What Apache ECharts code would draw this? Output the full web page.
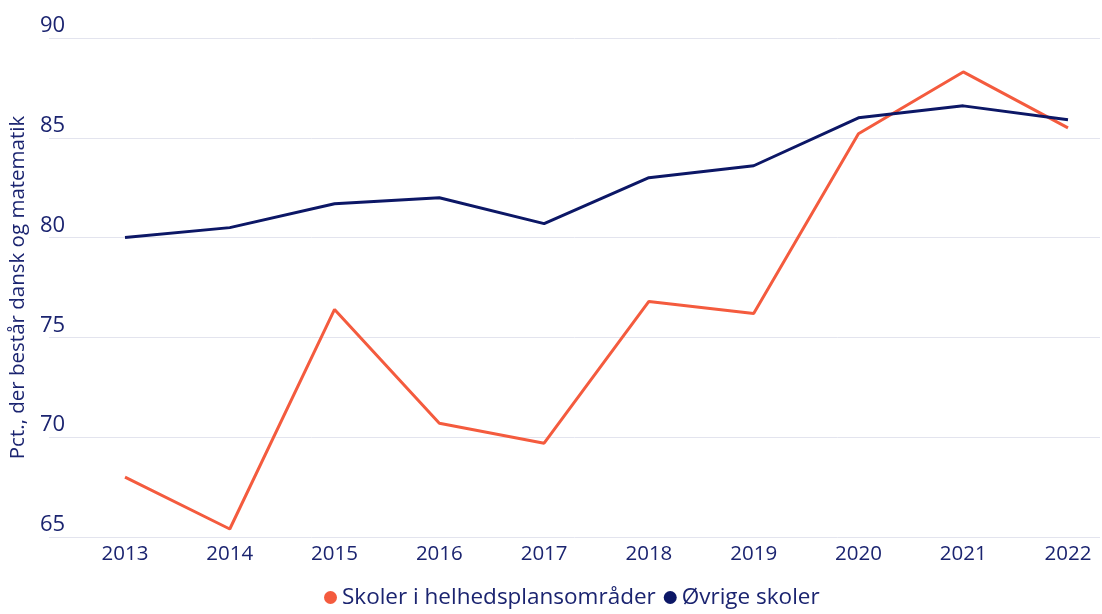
<!DOCTYPE html>
<html><head><meta charset="utf-8">
<script src="https://cdn.jsdelivr.net/npm/echarts@6/dist/echarts.min.js"></script>
<style>html,body{margin:0;padding:0;background:#fff}#c{width:1102px;height:614px}</style>
</head><body><div id="c"></div>
<script>
const years = ['2013','2014','2015','2016','2017','2018','2019','2020','2021','2022'];
const helhed = [68.0, 65.4, 76.4, 70.7, 69.7, 76.8, 76.2, 85.2, 88.3, 85.5];
const oevrige = [80.0, 80.5, 81.7, 82.0, 80.7, 83.0, 83.6, 86.0, 86.6, 85.9];
const yTicks = {min: 65, max: 90, interval: 5};
const names = ['Skoler i helhedsplansområder', 'Øvrige skoler'];

const FONT = 'Open Sans';
const TXT = '#1b2470';
const chart = echarts.init(document.getElementById('c'));
chart.setOption({
  backgroundColor: '#fff',
  textStyle: {fontFamily: FONT},
  grid: [
    {left: 40, right: 2, top: 38, bottom: 77},
    {left: 125, right: 34, top: 38, bottom: 77}
  ],
  xAxis: [
    {gridIndex: 0, type: 'category', data: years, show: false},
    {gridIndex: 1, type: 'category', data: years, boundaryGap: false,
     axisLine: {show: false}, axisTick: {show: false},
     axisLabel: {color: TXT, fontSize: 20.5, fontFamily: FONT, margin: 7}}
  ],
  yAxis: [
    {gridIndex: 0, type: 'value', min: yTicks.min, max: yTicks.max, interval: yTicks.interval,
     name: 'Pct., der består dansk og matematik', nameLocation: 'middle', nameGap: 20, nameRotate: 90,
     nameTextStyle: {color: TXT, fontSize: 20.5, fontFamily: FONT},
     axisLine: {show: false}, axisTick: {show: false},
     axisLabel: {inside: true, margin: -9, verticalAlign: 'bottom', color: TXT, fontSize: 22, fontFamily: FONT, padding: [0,0,1,0]},
     splitLine: {lineStyle: {color: '#e3e4ee', width: 1}}},
    {gridIndex: 1, type: 'value', min: yTicks.min, max: yTicks.max, interval: yTicks.interval, show: false}
  ],
  legend: {
    bottom: 0, left: 319, icon: 'circle', itemWidth: 13, itemHeight: 13, itemGap: 8,
    textStyle: {color: TXT, fontSize: 22.5, fontFamily: FONT},
    data: names
  },
  series: [
    {name: names[0], type: 'line', xAxisIndex: 1, yAxisIndex: 1, data: helhed,
     showSymbol: false, symbol: 'none', lineStyle: {color: '#f45b3e', width: 3}, itemStyle: {color: '#f45b3e'}},
    {name: names[1], type: 'line', xAxisIndex: 1, yAxisIndex: 1, data: oevrige,
     showSymbol: false, symbol: 'none', lineStyle: {color: '#0c1766', width: 3}, itemStyle: {color: '#0c1766'}}
  ],
  animation: false
});
</script></body></html>
